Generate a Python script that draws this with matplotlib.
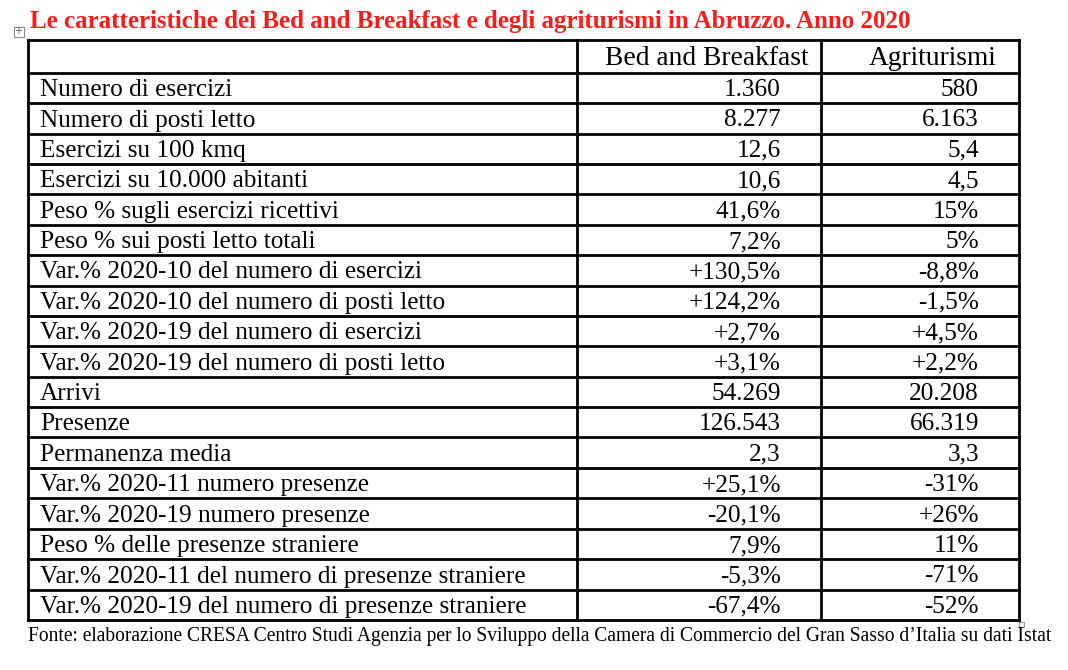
import matplotlib
matplotlib.use("Agg")
import matplotlib.pyplot as plt
from matplotlib.patches import Rectangle

# Table content
title = "Le caratteristiche dei Bed and Breakfast e degli agriturismi in Abruzzo. Anno 2020"
source = ("Fonte: elaborazione CRESA Centro Studi Agenzia per lo Sviluppo della Camera "
          "di Commercio del Gran Sasso d\u2019Italia su dati Istat")
col_headers = ["Bed and Breakfast", "Agriturismi"]
row_labels = [
    "Numero di esercizi",
    "Numero di posti letto",
    "Esercizi su 100 kmq",
    "Esercizi su 10.000 abitanti",
    "Peso % sugli esercizi ricettivi",
    "Peso % sui posti letto totali",
    "Var.% 2020-10 del numero di esercizi",
    "Var.% 2020-10 del numero di posti letto",
    "Var.% 2020-19 del numero di esercizi",
    "Var.% 2020-19 del numero di posti letto",
    "Arrivi",
    "Presenze",
    "Permanenza media",
    "Var.% 2020-11 numero presenze",
    "Var.% 2020-19 numero presenze",
    "Peso % delle presenze straniere",
    "Var.% 2020-11 del numero di presenze straniere",
    "Var.% 2020-19 del numero di presenze straniere",
]
bb_values = ["1.360", "8.277", "12,6", "10,6", "41,6%", "7,2%", "+130,5%", "+124,2%",
             "+2,7%", "+3,1%", "54.269", "126.543", "2,3", "+25,1%", "-20,1%", "7,9%",
             "-5,3%", "-67,4%"]
agri_values = ["580", "6.163", "5,4", "4,5", "15%", "5%", "-8,8%", "-1,5%",
               "+4,5%", "+2,2%", "20.208", "66.319", "3,3", "-31%", "+26%", "11%",
               "-71%", "-52%"]

serif = "Liberation Serif"

fig = plt.figure(figsize=(10.68, 6.70), dpi=100)
ax = fig.add_axes([0, 0, 1, 1])
ax.set_xlim(0, 1068)
ax.set_ylim(670, 0)
ax.axis("off")

# geometry in pixels
left, right = 28, 1019
col1, col2 = 577, 821
top, head_bottom = 40, 72.7
row_h = 30.4
bottom = head_bottom + row_h * len(row_labels)
lw = 2.0

ax.text(30, 28, title, color="#ff1a1a", fontsize=18.0, fontweight="bold",
        family=serif, ha="left", va="baseline")

# grid lines
for x in (left, col1, col2, right):
    ax.plot([x, x], [top, bottom], color="black", lw=lw, solid_capstyle="projecting")
ax.plot([left, right], [top, top], color="black", lw=lw, solid_capstyle="projecting")
ax.plot([left, right], [head_bottom, head_bottom], color="black", lw=lw)
for i in range(len(row_labels)):
    y = head_bottom + row_h * (i + 1)
    ax.plot([left, right], [y, y], color="black", lw=lw, solid_capstyle="projecting")

fs = 18.2
ax.text(809, head_bottom - 8, col_headers[0], fontsize=19.8, family=serif,
        ha="right", va="baseline")
ax.text(996, head_bottom - 8, col_headers[1], fontsize=19.8, family=serif,
        ha="right", va="baseline")

for i, (lab, b, a) in enumerate(zip(row_labels, bb_values, agri_values)):
    yb = head_bottom + row_h * (i + 1) - 7
    ax.text(40, yb, lab, fontsize=fs, family=serif, ha="left", va="baseline")
    ax.text(781, yb, b, fontsize=fs, family=serif, ha="right", va="baseline")
    ax.text(979, yb, a, fontsize=fs, family=serif, ha="right", va="baseline")

ax.text(28, bottom + 21, source, fontsize=14.05, family=serif, ha="left",
        va="baseline")

# small Word-style table handles
ax.add_patch(Rectangle((13.5, 26.5), 10, 10, fill=False, ec="#888888", lw=0.8))
ax.text(18.5, 31.5, "+", fontsize=7, color="#555555", ha="center", va="center")
ax.add_patch(Rectangle((1019, 622), 5, 5, fill=False, ec="#999999", lw=0.8))

fig.savefig("out.png", dpi=100)
